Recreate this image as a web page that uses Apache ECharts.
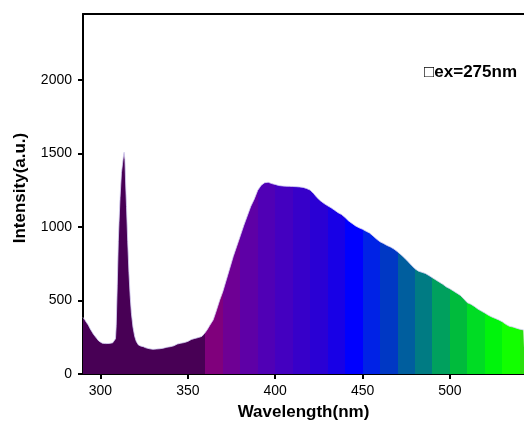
<!DOCTYPE html>
<html>
<head>
<meta charset="utf-8">
<script src="https://cdn.jsdelivr.net/npm/echarts@6/dist/echarts.min.js"></script>
<style>html,body{margin:0;padding:0;background:#fff}#c{width:524px;height:428px}</style>
</head>
<body>
<div id="c"></div>
<script>
// ---- data ----
const wavelengths = [290,291,292,293,294,295,296,297,298,299,300,301,302,303,304,305,306,307,308,308.6,309,309.6,310.2,310.6,311.2,312,312.6,313,313.5,314,314.4,314.9,315.6,316.3,317,317.7,318.6,319.6,320.5,321.7,323,324.5,326,328,330,332,334,336,338,340,342,344,346,348,350,352,354,356,358,359.5,361,362.5,364.5,366,368.3,370,372,374,376,378,380,382,384,386,388,390,392,394,396,398,400,402,404,406,408,410,412,414,416,418,420,422,424,426,428,430,432,434,436,438,440,442,444,446,448,450,452,454,456,458,460,462,464,466,468,470,472,474,476,478,480,482,484,486,488,490,492,494,496,498,500,502,504,506,508,510,512,514,516,518,520,522,524,526,528,530,532,534,536,538,540,542,543];
const intensities = [385,370,350,334,310,290,270,258,240,225,214,210,208,207,206,208,209,212,222,240,330,600,900,1030,1200,1370,1430,1470,1510,1460,1300,1140,900,690,530,414,320,255,222,198,190,186,178,172,168,170,172,176,182,186,192,204,210,214,222,235,242,248,256,275,300,330,368,420,505,560,640,720,800,870,940,1010,1075,1140,1190,1250,1285,1302,1305,1296,1290,1283,1280,1278,1277,1276,1275,1273,1270,1262,1252,1228,1200,1178,1160,1145,1131,1115,1098,1085,1065,1042,1025,1008,995,985,972,960,940,918,900,888,875,864,850,832,812,790,765,740,716,700,692,684,670,655,640,625,610,592,580,565,550,535,510,485,475,460,442,428,415,400,388,378,368,355,338,325,320,312,305,300,298];
const bandStarts = [290,360,370,380,390,400,410,420,430,440,450,460,470,480,490,500,510,520,530,540];
const bandColors = ['#480055','#80007c','#6e0094','#5e00a6','#5000b5','#4400c0','#3700c9','#2a00d4','#1800e6','#0000ff','#0022e6','#0038c4','#005e9e','#007b83','#00a05e','#00bb3c','#00dc24','#00f40c','#12ff00','#2ae00e'];
const xTicks = [300,350,400,450,500];
const yTicks = [0,500,1000,1500,2000];
const xTitle = 'Wavelength(nm)';
const yTitle = 'Intensity(a.u.)';
const note = '\u25A1ex=275nm';

const pts = wavelengths.map((w,i)=>[w,intensities[i]]);
const pieces = bandStarts.map((s,i)=>({gte:s, lt:(i<bandStarts.length-1?bandStarts[i+1]:600), color:bandColors[i]}));

const font = 'Liberation Sans, Arial, sans-serif';
const chart = echarts.init(document.getElementById('c'), null, {renderer:'canvas'});
chart.setOption({
  animation:false,
  grid:{left:83, right:0, top:14, bottom:54},
  xAxis:[{
    type:'value', min:290, max:542.4,
    name:xTitle, nameLocation:'middle', nameGap:30,
    nameTextStyle:{fontFamily:font, fontWeight:'bold', fontSize:17, color:'#000'},
    splitLine:{show:false},
    axisLine:{onZero:false, lineStyle:{color:'#000', width:2}},
    axisTick:{show:true, length:5, lineStyle:{color:'#000', width:2}, customValues:xTicks},
    axisLabel:{fontFamily:font, fontSize:14, color:'#000', margin:10, customValues:xTicks, formatter:v=>String(v)}
  },{
    type:'value', min:290, max:542.4, position:'top',
    splitLine:{show:false},
    axisLine:{onZero:false, lineStyle:{color:'#000', width:2}},
    axisTick:{show:false}, axisLabel:{show:false}
  }],
  yAxis:{
    type:'value', min:0, max:2450,
    name:yTitle, nameLocation:'middle', nameGap:54,
    nameTextStyle:{fontFamily:font, fontWeight:'bold', fontSize:17, color:'#000', padding:[0,0,0,12]},
    splitLine:{show:false},
    axisLine:{show:true, lineStyle:{color:'#000', width:2}},
    axisTick:{show:true, length:5, lineStyle:{color:'#000', width:2}, customValues:yTicks},
    axisLabel:{fontFamily:font, fontSize:14, color:'#000', margin:11, customValues:yTicks, formatter:v=>String(v)}
  },
  visualMap:{type:'piecewise', show:false, dimension:0, seriesIndex:0, pieces:pieces},
  series:[{
    type:'line', data:pts, showSymbol:false, symbol:'none',
    lineStyle:{width:0}, areaStyle:{opacity:1}, z:2
  },{
    type:'line', data:pts, showSymbol:false, symbol:'none',
    lineStyle:{width:1, color:'rgba(215,210,245,0.8)'}, z:3
  }],
  graphic:[{
    type:'text', right:7, top:64,
    style:{text:note, font:'bold 17px '+font, fill:'#000'}
  }]
});
</script>
</body>
</html>
